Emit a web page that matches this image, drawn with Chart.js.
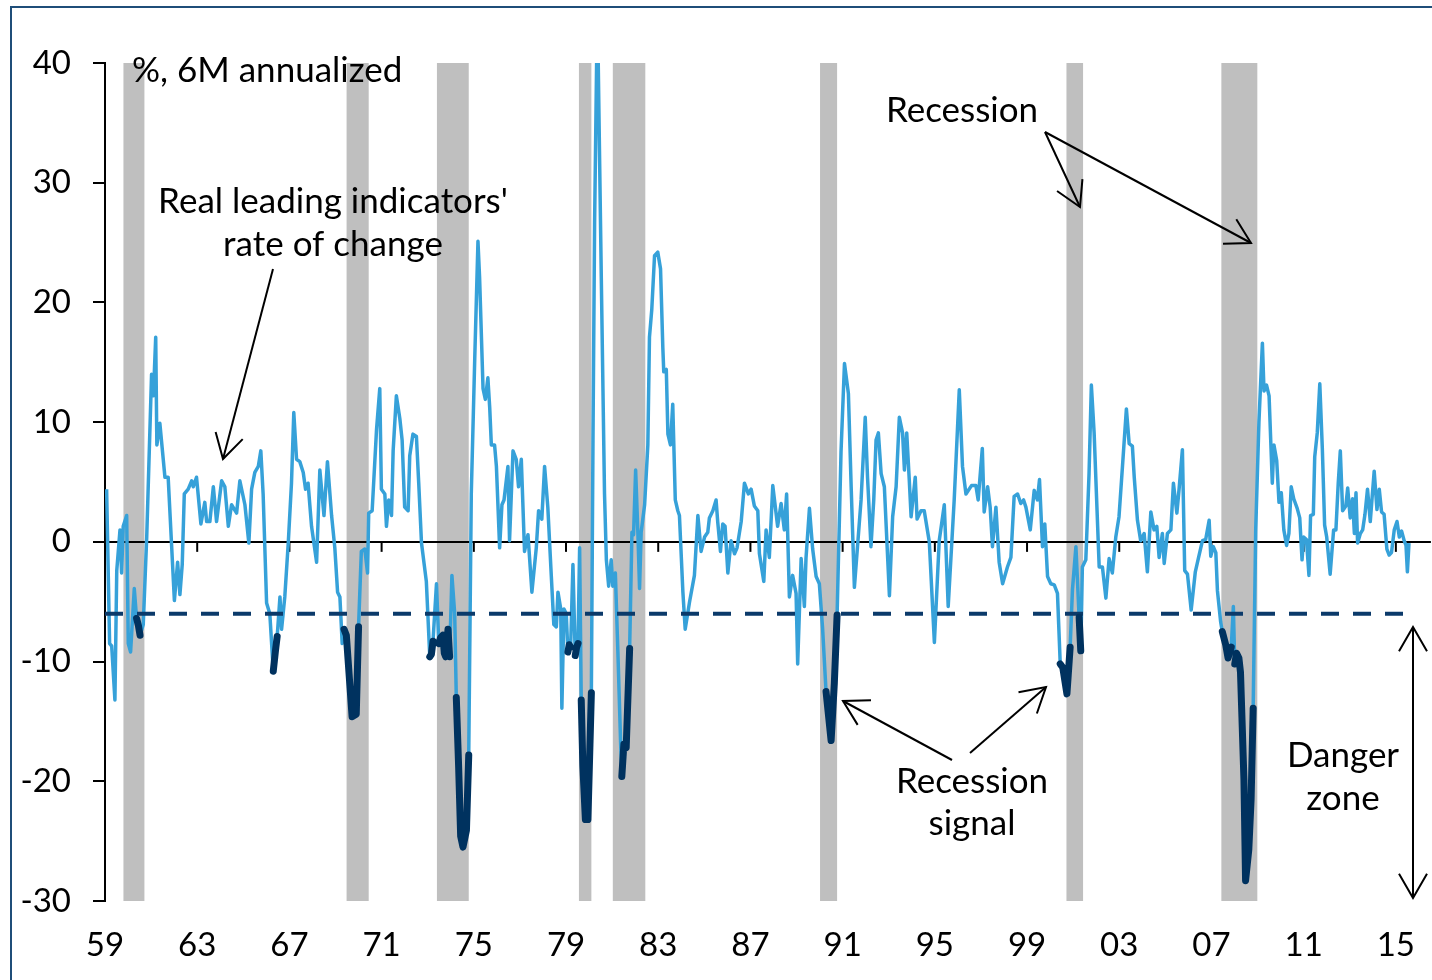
<!DOCTYPE html>
<html>
<head>
<meta charset="utf-8">
<script src="https://cdn.jsdelivr.net/npm/chart.js@4/dist/chart.umd.min.js"></script>
<style>
  html, body { margin: 0; padding: 0; background: #fff; }
  #wrap { width: 1432px; height: 980px; position: relative; }
</style>
</head>
<body>
<div id="wrap"><canvas id="leading" width="1432" height="980"></canvas></div>
<script>
// real leading indicators, % 6M annualized (x = position on the year axis)
const dates = [
  1959.07,1959.20,1959.29,1959.43,1959.51,1959.65,1959.72,1959.79,1959.94,
  1960.01,1960.11,1960.27,1960.37,1960.45,1960.52,1960.66,1960.81,
  1961.02,1961.10,1961.20,1961.25,1961.38,1961.60,1961.74,
  1962.01,1962.15,1962.25,1962.35,1962.44,1962.61,1962.76,1962.83,1962.97,
  1963.16,1963.33,1963.41,1963.55,1963.70,1963.84,
  1964.06,1964.20,1964.35,1964.49,1964.71,1964.85,
  1965.07,1965.24,1965.36,1965.50,1965.65,1965.76,1965.86,
  1966.01,1966.15,1966.30,1966.40,1966.47,1966.59,1966.66,1966.80,1966.95,
  1967.09,1967.19,1967.31,1967.45,1967.60,1967.70,1967.81,1967.96,
  1968.18,1968.32,1968.50,1968.65,1968.83,1968.97,
  1969.09,1969.19,1969.29,1969.37,1969.47,1969.62,1969.72,1969.90,
  1970.00,1970.12,1970.27,1970.39,1970.44,1970.59,1970.78,1970.92,1970.99,
  1971.14,1971.21,1971.31,1971.43,1971.50,1971.64,1971.79,1971.89,
  1972.00,1972.15,1972.22,1972.36,1972.51,1972.61,1972.73,1972.94,
  1973.09,1973.16,1973.23,1973.38,1973.48,1973.56,1973.66,1973.72,1973.78,1973.88,1973.95,
  1974.05,1974.17,1974.24,1974.34,1974.43,1974.53,1974.68,1974.78,1974.89,
  1975.04,1975.18,1975.25,1975.40,1975.50,1975.61,1975.69,1975.76,1975.90,1975.98,
  1976.12,1976.22,1976.31,1976.48,1976.55,1976.70,1976.84,1976.94,
  1977.06,1977.20,1977.35,1977.52,1977.71,1977.81,1977.95,
  1978.07,1978.21,1978.36,1978.47,1978.58,1978.65,1978.77,1978.82,1978.91,
  1979.01,1979.08,1979.14,1979.20,1979.30,1979.40,1979.46,1979.52,1979.59,1979.66,1979.73,1979.84,1979.95,
  1980.10,1980.17,1980.24,1980.36,1980.53,1980.67,1980.75,1980.85,1980.96,
  1981.03,1981.14,1981.25,1981.37,1981.42,1981.51,1981.61,1981.76,1981.86,1981.93,
  1982.02,1982.12,1982.19,1982.26,1982.41,1982.55,1982.62,1982.72,1982.84,1982.98,
  1983.10,1983.20,1983.24,1983.35,1983.42,1983.53,1983.63,1983.74,1983.85,1983.92,
  1984.07,1984.17,1984.36,1984.57,1984.72,1984.86,
  1985.01,1985.15,1985.22,1985.37,1985.51,1985.58,1985.70,1985.80,1985.90,
  1986.02,1986.16,1986.31,1986.42,1986.60,1986.74,1986.91,
  1987.03,1987.17,1987.32,1987.39,1987.58,1987.68,1987.82,1987.97,
  1988.18,1988.33,1988.47,1988.57,1988.69,1988.83,1988.98,
  1989.05,1989.20,1989.34,1989.41,1989.56,1989.70,1989.85,1989.99,
  1990.13,1990.28,1990.35,1990.50,1990.64,1990.76,1990.93,
  1991.08,1991.25,1991.37,1991.51,1991.80,1991.98,
  1992.08,1992.23,1992.35,1992.45,1992.55,1992.67,1992.81,
  1993.03,1993.17,1993.32,1993.46,1993.60,1993.68,1993.78,1993.89,1993.97,
  1994.15,1994.23,1994.40,1994.54,1994.76,1994.98,
  1995.19,1995.41,1995.58,1995.84,
  1996.06,1996.20,1996.35,1996.59,1996.78,1996.88,
  1997.06,1997.14,1997.29,1997.40,1997.50,1997.65,1997.79,1997.94,
  1998.15,1998.30,1998.44,1998.59,1998.73,1998.85,1998.95,
  1999.14,1999.31,1999.45,1999.54,1999.67,1999.77,1999.89,
  2000.03,2000.18,2000.32,2000.44,2000.55,2000.73,2000.87,2000.97,
  2001.12,2001.26,2001.33,2001.40,2001.55,2001.69,2001.79,2001.91,
  2002.13,2002.27,2002.42,2002.56,2002.70,2002.85,2002.99,
  2003.14,2003.31,2003.43,2003.57,2003.65,2003.79,2003.93,
  2004.08,2004.22,2004.37,2004.51,2004.63,2004.73,2004.87,2004.95,
  2005.09,2005.24,2005.35,2005.50,2005.60,2005.74,2005.84,2005.96,
  2006.12,2006.30,2006.43,2006.61,2006.75,2006.90,2006.97,
  2007.08,2007.19,2007.26,2007.40,2007.47,2007.62,2007.72,2007.86,2007.95,
  2008.01,2008.09,2008.19,2008.26,2008.41,2008.48,2008.62,2008.72,2008.81,2008.92,
  2009.06,2009.21,2009.28,2009.39,2009.50,2009.64,2009.71,2009.83,2009.93,
  2010.03,2010.14,2010.26,2010.36,2010.46,2010.57,2010.72,2010.83,2010.93,
  2011.00,2011.12,2011.23,2011.30,2011.42,2011.48,2011.59,2011.70,2011.81,2011.91,
  2012.00,2012.15,2012.30,2012.40,2012.50,2012.59,2012.69,2012.83,2012.91,
  2013.02,2013.12,2013.20,2013.27,2013.34,2013.46,2013.56,2013.66,2013.77,2013.89,2013.99,
  2014.06,2014.18,2014.28,2014.38,2014.49,2014.61,2014.71,2014.81,2014.93,
  2015.05,2015.15,2015.25,2015.36,2015.44,2015.50,2015.57
];
const values = [
  4.4,-8.5,-8.7,-13.2,-2.4,1.0,-2.6,1.3,2.2,
  -8.5,-9.2,-3.9,-6.4,-7.0,-7.8,-6.9,0.4,
  14.0,12.2,17.1,8.1,9.9,5.4,5.4,
  -4.9,-1.7,-4.4,-1.9,4.0,4.4,5.1,4.6,5.4,
  1.5,3.3,1.7,1.7,4.6,1.7,
  5.1,4.6,1.3,3.1,2.4,5.1,
  3.1,-0.1,4.4,5.8,6.3,7.6,4.0,
  -5.1,-6.0,-10.8,-9.0,-7.9,-4.6,-7.3,-4.6,-0.1,
  4.9,10.8,6.9,6.7,5.8,4.4,4.9,1.3,
  -1.7,6.0,2.2,6.7,2.2,-0.5,
  -4.2,-4.6,-8.5,-7.3,-7.8,-11.9,-14.6,-14.4,
  -7.1,-0.8,-0.6,-2.6,2.4,2.6,9.4,12.8,4.4,
  4.0,1.3,3.5,2.2,7.6,12.2,10.3,8.5,
  2.9,2.6,7.2,9.0,8.8,4.9,-0.1,-3.3,
  -9.6,-9.4,-8.3,-3.5,-8.5,-8.0,-7.8,-9.3,-9.6,-7.3,-9.6,
  -2.8,-6.0,-13.0,-18.7,-24.6,-25.5,-24.1,-17.8,4.0,
  15.3,25.1,22.1,12.8,11.9,13.7,11.2,8.1,8.1,6.3,
  -0.5,3.1,3.5,6.3,0.1,7.6,6.9,4.6,
  6.9,-0.8,0.6,-4.2,-0.5,2.6,1.9,
  6.3,2.9,-2.8,-6.9,-7.1,-4.2,-5.6,-13.9,-5.6,
  -6.0,-9.2,-8.6,-8.8,-1.9,-9.5,-8.8,-8.5,-0.5,-13.2,-18.7,-23.2,-23.2,
  -12.6,8.5,26.7,45.0,22.1,4.0,-1.5,-3.7,-1.5,
  -3.7,-2.6,-9.2,-16.9,-19.6,-16.9,-17.2,-8.9,0.8,0.6,
  6.0,0.6,-3.9,0.8,3.1,8.1,17.1,19.4,23.9,24.2,
  22.8,16.2,14.2,14.4,9.0,8.1,11.5,3.5,2.6,2.2,
  -4.2,-7.3,-5.0,-2.8,2.2,-0.8,
  0.4,0.8,2.0,2.6,3.5,1.7,-0.8,1.5,1.3,
  -2.6,0.1,-1.0,-0.5,1.7,4.9,4.0,
  4.4,3.0,2.6,-1.0,-3.3,1.0,-1.3,4.7,
  1.3,3.2,1.0,4.0,-4.6,-2.8,-4.3,
  -10.2,-1.4,-5.4,-1.4,2.8,-0.6,-2.9,-3.5,
  -7.2,-12.5,-13.8,-16.6,-11.8,-6.1,7.5,
  14.9,12.4,4.6,-3.8,3.5,10.4,
  5.4,-0.4,3.5,8.5,9.1,5.7,4.6,
  -4.5,2.1,4.6,10.4,9.1,6.0,9.1,5.2,2.1,
  5.4,1.9,2.6,2.6,0.0,-8.4,
  0.1,3.1,-5.4,3.5,
  12.7,6.3,4.0,4.7,4.7,3.5,
  7.8,2.5,4.6,2.9,-0.4,2.9,-1.7,-3.5,
  -2.1,-1.3,3.8,4.0,3.2,3.5,2.9,
  1.0,4.3,3.5,5.2,-0.4,1.5,-2.9,
  -3.5,-3.6,-4.3,-10.2,-10.5,-12.7,-8.8,-4.0,
  -0.4,-6.3,-9.1,-2.1,-1.5,5.7,13.1,9.1,
  -2.1,-2.1,-4.7,-1.4,-2.6,0.4,2.1,
  6.3,11.1,8.2,8.0,5.4,1.8,0.1,
  0.7,-2.5,2.5,1.0,1.3,-1.3,0.7,-1.8,
  0.7,1.0,4.9,2.4,4.5,7.7,-2.4,-2.7,
  -5.7,-2.5,-1.4,0.1,0.2,1.8,-1.2,
  -0.4,-0.9,-4.1,-6.7,-7.5,-8.6,-9.7,-8.8,-5.4,
  -10.2,-9.3,-9.7,-10.9,-19.9,-28.3,-25.7,-21.5,-13.9,1.0,
  10.0,16.6,12.6,13.1,12.2,4.9,8.1,6.8,3.3,
  4.1,1.0,-0.3,0.7,4.6,3.6,2.8,2.0,-1.5,
  0.4,0.2,-2.8,2.2,2.3,7.1,9.1,13.2,7.8,1.4,
  0.4,-2.7,1.0,1.0,4.9,7.6,2.6,3.0,4.5,
  2.0,3.6,0.7,4.1,-0.1,0.7,1.0,2.3,4.4,1.7,4.2,
  5.9,2.7,4.4,2.5,2.3,-0.6,-1.1,-0.9,1.0,
  1.7,0.4,0.9,0.1,-0.3,-2.5,-0.1
];

// recession periods (grey bands)
const recStart = [1959.80, 1969.48, 1973.40, 1979.56, 1981.03, 1990.02, 2000.71, 2007.43];
const recEnd   = [1960.71, 1970.44, 1974.78, 1980.10, 1982.44, 1990.76, 2001.43, 2008.99];

// recession signal stretches (thick dark line)
const signalStart = [1960.37, 1966.30, 1969.37, 1973.09, 1973.48, 1974.24, 1979.08, 1979.40,
                     1979.66, 1981.42, 1990.28, 2000.44, 2001.26, 2007.47, 2008.01];
const signalEnd   = [1960.52, 1966.47, 1970.00, 1973.23, 1973.95, 1974.78, 1979.20, 1979.52,
                     1980.10, 1981.76, 1990.76, 2000.87, 2001.33, 2007.86, 2008.81];

const dangerLevel = -6;
const xTickYears = [1959, 1963, 1967, 1971, 1975, 1979, 1983, 1987, 1991, 1995, 1999, 2003, 2007, 2011, 2015];
const xTickLabels = ['59', '63', '67', '71', '75', '79', '83', '87', '91', '95', '99', '03', '07', '11', '15'];

const FONT = 'Lato';
const lightBlue = '#36a1d9';
const navy = '#00325f';

const mainPts = dates.map((d, i) => ({ x: d, y: values[i] }));
const inSignal = d => signalStart.some((s, k) => d >= s - 0.001 && d <= signalEnd[k] + 0.001);
const signalPts = dates.map((d, i) => ({ x: d, y: inSignal(d) ? values[i] : null }));
const dangerPts = [{ x: xTickYears[0], y: dangerLevel }, { x: dates[dates.length - 1], y: dangerLevel }];

// grey recession bands, under the grid
const bandsPlugin = {
  id: 'bands',
  beforeDraw(chart) {
    const { ctx, chartArea, scales } = chart;
    ctx.save();
    ctx.fillStyle = '#bfbfbf';
    recStart.forEach((s, i) => {
      const x1 = scales.x.getPixelForValue(s);
      const x2 = scales.x.getPixelForValue(recEnd[i]);
      ctx.fillRect(x1, chartArea.top, x2 - x1, chartArea.bottom - chartArea.top);
    });
    ctx.restore();
  }
};

// small ticks hanging from the zero line
const zeroTicks = {
  id: 'zeroTicks',
  beforeDatasetsDraw(chart) {
    const { ctx, scales } = chart;
    const y0 = scales.y.getPixelForValue(0);
    ctx.save();
    ctx.strokeStyle = '#000';
    ctx.lineWidth = 2;
    xTickYears.forEach(v => {
      const x = scales.x.getPixelForValue(v);
      ctx.beginPath();
      ctx.moveTo(x, y0);
      ctx.lineTo(x, y0 + 10);
      ctx.stroke();
    });
    ctx.restore();
  }
};

function arrowHead(ctx, x1, y1, x2, y2) {
  const a = Math.atan2(y2 - y1, x2 - x1);
  const len = 28, spread = Math.PI / 6;
  ctx.beginPath();
  ctx.moveTo(x2 - len * Math.cos(a - spread), y2 - len * Math.sin(a - spread));
  ctx.lineTo(x2, y2);
  ctx.lineTo(x2 - len * Math.cos(a + spread), y2 - len * Math.sin(a + spread));
  ctx.stroke();
}
function arrow(ctx, x1, y1, x2, y2) {
  ctx.beginPath();
  ctx.moveTo(x1, y1);
  ctx.lineTo(x2, y2);
  ctx.stroke();
  arrowHead(ctx, x1, y1, x2, y2);
}

// labels, arrows and the frame
const notes = {
  id: 'notes',
  afterDraw(chart) {
    const ctx = chart.ctx;
    ctx.save();
    ctx.fillStyle = '#000';
    ctx.font = '35px ' + FONT;
    ctx.textBaseline = 'alphabetic';
    ctx.textAlign = 'left';
    ctx.fillText('%, 6M annualized', 132, 82);
    ctx.textAlign = 'center';
    ctx.fillText("Real leading indicators'", 333, 213);
    ctx.fillText('rate of change', 333, 256);
    ctx.fillText('Recession', 962, 122);
    ctx.fillText('Recession', 972, 793);
    ctx.fillText('signal', 972, 835);
    ctx.fillText('Danger', 1343, 767);
    ctx.fillText('zone', 1343, 810);

    ctx.strokeStyle = '#000';
    ctx.lineWidth = 2;
    arrow(ctx, 273, 269, 223, 459);
    arrow(ctx, 1045, 132, 1080, 207);
    arrow(ctx, 1045, 132, 1251, 243);
    arrow(ctx, 952, 760, 843, 701);
    arrow(ctx, 970, 753, 1046, 687);
    arrow(ctx, 1413, 898, 1413, 627);
    arrowHead(ctx, 1413, 627, 1413, 898);

    // outer frame
    ctx.strokeStyle = '#1f4e79';
    ctx.lineWidth = 2;
    ctx.beginPath();
    ctx.moveTo(11, 980);
    ctx.lineTo(11, 7);
    ctx.lineTo(1432, 7);
    ctx.stroke();
    ctx.restore();
  }
};

const config = {
  type: 'line',
  data: {
    datasets: [
      {
        label: 'signal',
        data: signalPts,
        borderColor: navy,
        borderWidth: 7,
        borderCapStyle: 'round',
        borderJoinStyle: 'round',
        pointRadius: 0,
        spanGaps: false,
        order: 0
      },
      {
        label: 'danger',
        data: dangerPts,
        borderColor: '#0b3a6a',
        borderWidth: 4,
        borderDash: [18, 14],
        pointRadius: 0,
        order: 1
      },
      {
        label: 'leading',
        data: mainPts,
        borderColor: lightBlue,
        borderWidth: 3.5,
        borderJoinStyle: 'round',
        pointRadius: 0,
        order: 2
      }
    ]
  },
  options: {
    responsive: false,
    animation: false,
    layout: { padding: { top: 63, left: 0, right: 0, bottom: 0 } },
    plugins: {
      legend: { display: false },
      tooltip: { enabled: false }
    },
    scales: {
      x: {
        type: 'linear',
        min: 1959,
        max: 2016.52,
        border: { display: false },
        grid: { display: false },
        ticks: {
          autoSkip: false,
          maxRotation: 0,
          padding: 17,
          color: '#000',
          font: { family: FONT, size: 33 },
          callback: (v, i) => xTickLabels[i]
        },
        afterBuildTicks: s => { s.ticks = xTickYears.map(v => ({ value: v })); },
        afterFit: s => { s.height = 79; }
      },
      y: {
        min: -30,
        max: 40,
        border: { display: true, color: '#000', width: 2 },
        grid: {
          color: c => (c.tick && c.tick.value === 0 ? '#000' : 'rgba(0,0,0,0)'),
          lineWidth: 2,
          tickColor: '#000',
          tickWidth: 2,
          tickLength: 12
        },
        ticks: {
          stepSize: 10,
          padding: 22,
          color: '#000',
          font: { family: FONT, size: 33 }
        },
        afterFit: s => { s.width = 105; }
      }
    }
  },
  plugins: [bandsPlugin, zeroTicks, notes]
};

new Chart(document.getElementById('leading'), config);
</script>
</body>
</html>
